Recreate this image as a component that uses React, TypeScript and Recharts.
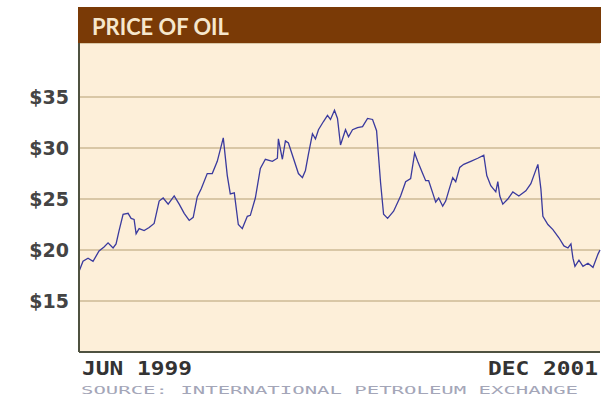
import React from 'react';
import { LineChart, Line, XAxis, YAxis, CartesianGrid } from 'recharts';

// weeks since start of June 1999
const WEEKS = [
  0, 1, 2.25, 3.5, 5, 6.25, 7.25, 8.5, 9.25, 10, 11, 12.25, 13, 13.75, 14.25, 15, 16.25, 17.5, 18.75, 20,
  21, 22.25, 23.75, 25, 26.25, 27.5, 28.5, 29.5, 30.5, 32, 33.25, 34.5, 36, 37, 37.75, 38.75, 39.75, 40.75,
  42, 42.75, 44, 45.25, 46.5, 48.25, 49.5, 49.75, 50.75, 51.5, 52.25, 53.5, 54.75, 55.75, 56.5, 57.25,
  58.25, 59, 59.75, 61, 62, 62.75, 63.75, 64.5, 65.25, 66.5, 67.25, 68.25, 69.5, 70.75, 72, 73.25, 74.25,
  75.25, 76, 77, 78.5, 80.25, 81.5, 82.75, 83.75, 84.5, 85.75, 86.5, 87.25, 88.25, 89, 89.75, 90.75, 91.5,
  92.25, 93.25, 94, 95, 96, 97.75, 99.5, 101, 101.75, 102.75, 104, 104.5, 105, 105.75, 107, 108.25, 109.75,
  111.5, 112.75, 114.5, 115.25, 115.75, 117, 118.25, 119.75, 121, 122, 122.75, 123.25, 123.75, 124.75,
  125.75, 127, 128.25, 129.5, 130,
];

const PRICES = [
  17.9, 18.9, 19.2, 18.9, 19.9, 20.3, 20.7, 20.2, 20.6, 21.9, 23.5, 23.6, 23.1, 23.0, 21.6, 22.1, 21.9, 22.2, 22.6, 24.8,
  25.1, 24.5, 25.3, 24.5, 23.6, 22.9, 23.2, 25.2, 26.0, 27.5, 27.5, 28.7, 31.0, 27.3, 25.5, 25.6, 22.5, 22.1,
  23.3, 23.4, 25.1, 28.0, 28.9, 28.7, 29.0, 30.9, 28.9, 30.7, 30.5, 29.0, 27.5, 27.1, 27.8, 29.4,
  31.4, 30.9, 31.8, 32.6, 33.2, 32.8, 33.7, 32.9, 30.3, 31.8, 31.1, 31.8, 32.0, 32.1, 32.9, 32.8, 31.7,
  26.6, 23.5, 23.1, 23.8, 25.3, 26.7, 27.0, 29.5, 28.7, 27.5, 26.8, 26.8, 25.6, 24.7, 25.1, 24.3, 24.8,
  25.8, 27.1, 26.7, 28.1, 28.4, 28.7, 29.0, 29.3, 27.3, 26.3, 25.7, 26.7, 25.3, 24.5, 25.0, 25.7,
  25.3, 25.8, 26.5, 28.4, 26.0, 23.3, 22.5, 22.0, 21.2, 20.4, 20.2, 20.6, 19.2, 18.4,
  19.0, 18.4, 18.7, 18.3, 19.6, 20.0,
];

const Y_TICKS = [15, 20, 25, 30, 35];
const X_TICKS = [0, 130];
const X_LABELS = ['JUN 1999', 'DEC 2001'];

const TITLE = 'PRICE OF OIL';
const SOURCE = 'SOURCE: INTERNATIONAL PETROLEUM EXCHANGE';

const data = WEEKS.map((week, i) => ({ week, price: PRICES[i] }));

const YTick = (props: any) => {
  const { y, payload } = props;
  return (
    <text
      x={69}
      y={y}
      textAnchor="end"
      dominantBaseline="central"
      fontFamily="DejaVu Sans"
      fontWeight="bold"
      fontSize={19}
      fill="#444"
    >
      ${payload.value}
    </text>
  );
};

const XTick = (props: any) => {
  const { x, payload, index } = props;
  const first = index === 0;
  return (
    <text
      x={first ? x + 3 : x - 2}
      y={375}
      textAnchor={first ? 'start' : 'end'}
      fontFamily="DejaVu Sans Mono"
      fontWeight="bold"
      fontSize={19}
      fill="#333"
      textLength={110}
      lengthAdjust="spacingAndGlyphs"
    >
      {X_LABELS[X_TICKS.indexOf(payload.value)]}
    </text>
  );
};

export default function App() {
  return (
    <div style={{ position: 'absolute', left: 0, top: 0, width: 602, height: 403, background: '#fff' }}>
      <LineChart width={602} height={403} data={data} margin={{ top: 43, right: 2, left: 0, bottom: 0 }}>
        <CartesianGrid vertical={false} stroke="#d9c7a6" strokeWidth={2} fill="#fdefd9" />
        <XAxis
          dataKey="week"
          type="number"
          domain={[0, 130]}
          ticks={X_TICKS}
          height={51}
          tickLine={false}
          axisLine={{ stroke: '#4f5240', strokeWidth: 2 }}
          tick={<XTick />}
          interval={0}
        />
        <YAxis
          type="number"
          domain={[10, 40.3]}
          ticks={Y_TICKS}
          width={79}
          tickLine={false}
          axisLine={{ stroke: '#4f5240', strokeWidth: 2 }}
          tick={<YTick />}
          interval={0}
        />
        <Line
          type="linear"
          dataKey="price"
          stroke="#3a3a9e"
          strokeWidth={1.3}
          dot={false}
          isAnimationActive={false}
        />
      </LineChart>
      <svg
        width={602}
        height={403}
        style={{ position: 'absolute', left: 0, top: 0, pointerEvents: 'none' }}
      >
        <rect x={78} y={7} width={523} height={36} fill="#7a3a06" />
        <text
          x={92}
          y={35}
          fontFamily="Lato"
          fontWeight="bold"
          fontSize={23}
          fill="#f6e7cc"
          textLength={137}
          lengthAdjust="spacingAndGlyphs"
        >
          {TITLE}
        </text>
        <text
          x={81}
          y={394}
          fontFamily="DejaVu Sans Mono"
          fontSize={11}
          fill="#a4a6b8"
          textLength={497}
          lengthAdjust="spacingAndGlyphs"
        >
          {SOURCE}
        </text>
      </svg>
    </div>
  );
}
